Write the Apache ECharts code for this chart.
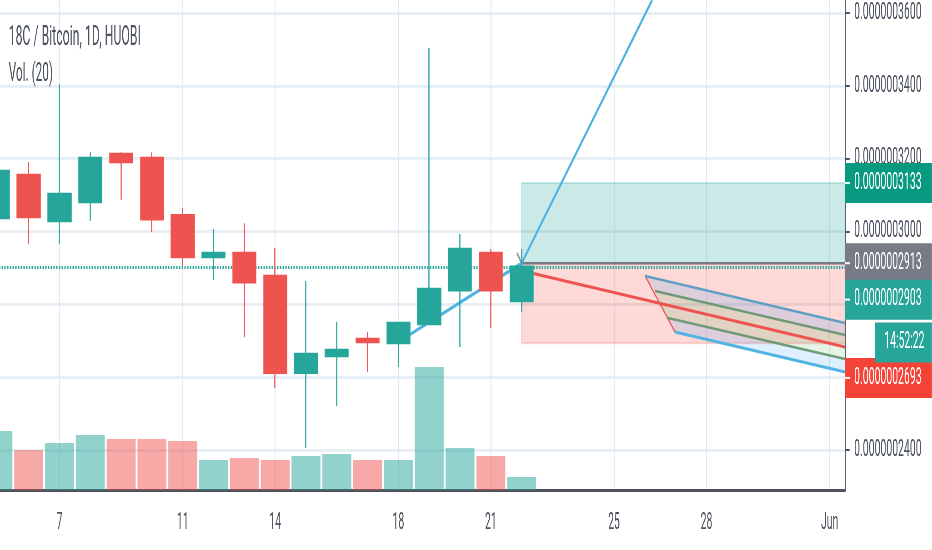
<!DOCTYPE html>
<html>
<head>
<meta charset="utf-8">
<style>
html,body{margin:0;padding:0;background:#fff;}
#wrap{width:932px;height:550px;overflow:hidden;}
#main{width:2050px;height:550px;transform-origin:0 0;transform:scaleX(0.45463);}
</style>
<script src="https://cdn.jsdelivr.net/npm/echarts@6/dist/echarts.min.js"></script>
</head>
<body>
<div id="wrap"><div id="main"></div></div>
<script>
// prices are in units of 1e-10 BTC
var days = ['5','6','7','8','9','10','11','12','13','14','15','16','17','18','19','20','21','22','23','24','25','26','27','28','29','30','31','Jun'];
var opens  = [3037,3155,3029,3081,3213,3202,3045,2930,2941,2878,2612,2658,2705,2694,2746,2839,2941,2809];
var closes = [3166,3040,3103,3202,3191,3034,2930,2941,2861,2612,2664,2675,2697,2749,2842,2952,2839,2903];
var lows   = [3037,2966,2966,3029,3087,2999,2905,2867,2710,2570,2406,2521,2614,2628,2746,2683,2735,2779];
var highs  = [3166,3191,3405,3218,3218,3218,3065,3007,3023,2955,2864,2752,2724,2749,3504,2993,2952,2952];
var volumes = [59,40,47,55,51,51,49,30,32,30,34,36,30,30,123,42,34,13];

var xTickLabels = ['7','11','14','18','21','25','28','Jun'];
var priceTicks = [2400,2600,2800,3000,3200,3400,3600];

// drawing tools, [day index, price]
var trendLine = [[13,2697],[17,2913],[21.24,3636]];
var arrowTip = [[16.85,2941],[17,2913]];
var entryLine = [[17,2913],[27.5,2913]];
var targetLine = [[17,2892],[27.5,2683]];
var channelTop = [[21.01,2878],[27.5,2749]];
var channelUpper = [[21.33,2837],[27.5,2716]];
var channelMid = [[21.5,2801],[27.5,2683]];
var channelLower = [[21.72,2763],[27.5,2650]];
var channelBottom = [[21.98,2724],[27.5,2614]];
var channelEdge = [[21.01,2878],[21.98,2724]];

var profitLevel = 3133, entryLevel = 2913, lastPrice = 2903, stopLevel = 2693;
// the scale pushes its tags apart, so these sit away from their own price
var lastTagLevel = 2813, countdownTagLevel = 2695, stopTagLevel = 2598;
var countdownText = '14:52:22';

var green = '#26a69a', red = '#ef5350';
var labelColor = '#4c525e';
var font = 'Roboto';

function priceText(v){
	return (v * 1e-10).toFixed(10);
}

function isXTick(i, val){
	return xTickLabels.indexOf(val) >= 0;
}

function toolLine(points, color, width){
	return {
		type: 'line', xAxisIndex: 1, yAxisIndex: 0, data: points, symbol: 'none', silent: true, z: 4,
		lineStyle: {color: color, width: width}
	};
}

function band(a, b, color){
	return {
		type: 'custom', xAxisIndex: 1, yAxisIndex: 0, silent: true, z: 3, clip: true,
		data: [a[0].concat(a[1], b[1], b[0])],
		renderItem: function(params, api){
			var pts = [];
			for(var i = 0; i < 4; i++){
				pts.push(api.coord([api.value(i * 2), api.value(i * 2 + 1)]));
			}
			return {type: 'polygon', shape: {points: pts}, style: {fill: color}};
		},
		encode: {x: 0, y: 1}
	};
}

function priceTag(level, text, bg){
	return {
		yAxis: level,
		lineStyle: {color: 'rgba(0,0,0,0)', width: 0},
		label: {
			show: true, position: 'end', distance: 0, formatter: '{t|}{s|}{v|' + text + '}', opacity: 1,
			backgroundColor: bg, width: 191, height: 40, lineHeight: 40, align: 'left',
			rich: {
				t: {width: 11, height: 2, backgroundColor: '#fff'},
				s: {width: 9, height: 2},
				v: {color: '#fff', fontFamily: font, fontSize: 23, lineHeight: 40}
			}
		}
	};
}

function countdownTag(level, text, bg){
	return {
		yAxis: level,
		lineStyle: {color: 'rgba(0,0,0,0)', width: 0},
		label: {
			show: true, position: 'end', distance: 66, formatter: text, color: '#fff', opacity: 1,
			fontFamily: font, fontSize: 23, backgroundColor: bg, width: 105, height: 40, lineHeight: 40,
			padding: [0, 0, 0, 20], align: 'left'
		}
	};
}

var candleData = days.slice(0, opens.length).map(function(d, i){
	return [opens[i], closes[i], lows[i], highs[i]];
});
var volumeData = volumes.map(function(v, i){
	return {value: v, itemStyle: {color: closes[i] >= opens[i] ? 'rgba(38,166,154,0.5)' : 'rgba(239,83,80,0.5)'}};
});

var chart = echarts.init(document.getElementById('main'));

chart.setOption({
	animation: false,
	backgroundColor: '#fff',
	title: [
		{text: '18C / Bitcoin, 1D, HUOBI', left: 14, top: 20, textStyle: {fontFamily: font, fontSize: 27, fontWeight: 'normal', color: labelColor}},
		{text: 'Vol. (20)', left: 14, top: 56, textStyle: {fontFamily: font, fontSize: 26, fontWeight: 'normal', color: labelColor}}
	],
	grid: {left: -38.5, top: 0, width: 1897.3, height: 490, containLabel: false, outerBoundsMode: 'none'},
	xAxis: [
		{
			type: 'category', data: days, boundaryGap: true,
			axisLine: {onZero: false, lineStyle: {color: '#50535e', width: 3}},
			axisTick: {alignWithLabel: true, length: 6, interval: isXTick, lineStyle: {color: '#50535e', width: 2}},
			axisLabel: {interval: isXTick, color: labelColor, fontFamily: font, fontSize: 23, margin: 22},
			splitLine: {show: true, alignWithLabel: true, interval: isXTick, lineStyle: {color: '#e1e9f0', width: 2}}
		},
		{type: 'value', show: false, min: -0.5, max: 27.5}
	],
	yAxis: [
		{
			type: 'value', position: 'right', min: 2290.3, max: 3635.7, scale: true,
			axisLine: {show: true, onZero: false, lineStyle: {color: '#5d606b', width: 3}},
			axisTick: {show: true, length: 10, customValues: priceTicks, lineStyle: {color: '#50535e', width: 2}},
			axisLabel: {color: labelColor, fontFamily: font, fontSize: 23, margin: 20, customValues: priceTicks, formatter: priceText},
			splitLine: {show: true, lineStyle: {color: '#e7eef4', width: 3}}
		},
		{type: 'value', show: false, min: 0, max: 490, splitLine: {show: false}}
	],
	series: [
		{
			type: 'bar', xAxisIndex: 0, yAxisIndex: 1, data: volumeData, barWidth: '94%', silent: true, z: 1
		},
		{
			type: 'line', xAxisIndex: 1, yAxisIndex: 0, data: [], silent: true, z: 2,
			markArea: {
				silent: true,
				data: [
					[{xAxis: entryLine[0][0], yAxis: profitLevel, itemStyle: {color: 'rgba(38,166,154,0.24)', borderColor: 'rgba(38,166,154,0.25)', borderWidth: 2}}, {xAxis: entryLine[1][0], yAxis: entryLevel}],
					[{xAxis: entryLine[0][0], yAxis: entryLevel, itemStyle: {color: 'rgba(244,67,54,0.2)', borderColor: 'rgba(244,67,54,0.2)', borderWidth: 2}}, {xAxis: entryLine[1][0], yAxis: stopLevel}]
				]
			}
		},
		band(channelTop, channelUpper, 'rgba(33,150,243,0.15)'),
		band(channelUpper, channelMid, 'rgba(76,175,80,0.15)'),
		band(channelMid, channelLower, 'rgba(76,175,80,0.15)'),
		band(channelLower, channelBottom, 'rgba(33,150,243,0.15)'),
		toolLine(channelEdge, red, 2),
		toolLine(channelTop, '#5f9fc4', 2.5),
		toolLine(channelUpper, '#6f9a7a', 2.5),
		toolLine(channelLower, '#6f9a7a', 2.5),
		toolLine(channelBottom, '#4fb3e3', 3),
		toolLine(entryLine, '#787b86', 2.5),
		toolLine(arrowTip, '#9598a1', 3),
		toolLine(targetLine, red, 3),
		toolLine(trendLine, '#4fb3e3', 3.5),
		{
			type: 'candlestick', xAxisIndex: 0, yAxisIndex: 0, data: candleData, barWidth: '75%', silent: true, z: 5,
			itemStyle: {color: green, color0: red, borderColor: green, borderColor0: red, borderWidth: 2.5}
		},
		{
			type: 'line', xAxisIndex: 1, yAxisIndex: 0, data: [], silent: true, z: 6,
			markLine: {
				silent: true, symbol: 'none', animation: false,
				lineStyle: {color: green, width: 3, type: [3, 3]},
				label: {show: false},
				data: [
					{yAxis: lastPrice, label: {show: false}},
					priceTag(profitLevel, priceText(profitLevel), '#089981'),
					priceTag(entryLevel, priceText(entryLevel), '#787b86'),
					priceTag(lastTagLevel, priceText(lastPrice), green),
					priceTag(stopTagLevel, priceText(stopLevel), '#f44336'),
					countdownTag(countdownTagLevel, countdownText, green)
				]
			}
		}
	]
});
</script>
</body>
</html>
